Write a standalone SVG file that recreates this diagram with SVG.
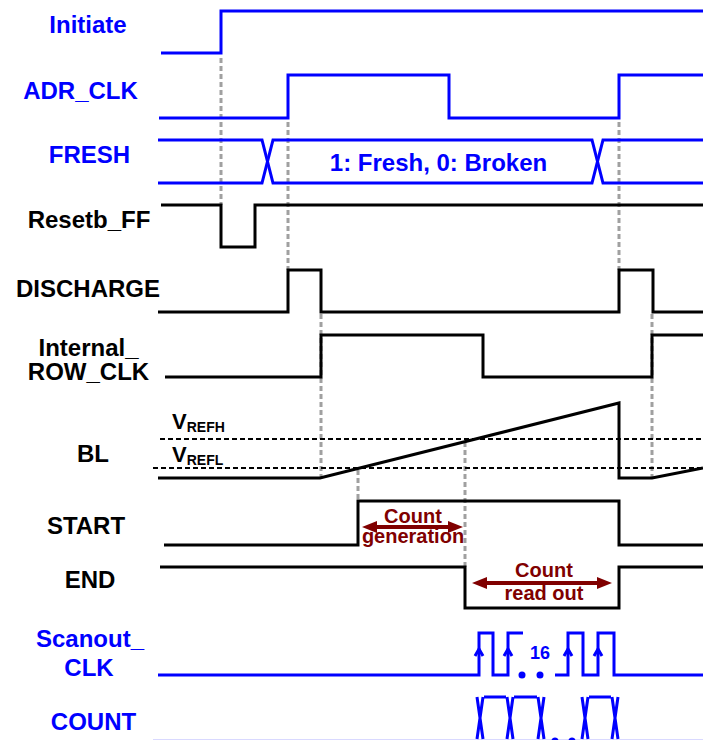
<svg xmlns="http://www.w3.org/2000/svg" width="703" height="740" viewBox="0 0 703 740">
<defs>
<style>
.lb{font-family:"Liberation Sans",Arial,sans-serif;font-weight:bold;font-size:24px;text-anchor:middle}
.bl{fill:#0000FF}
.bk{fill:#000000}
.wb{fill:none;stroke:#0000FF;stroke-width:3}
.wk{fill:none;stroke:#000000;stroke-width:3}
.gd{fill:none;stroke:#A0A0A0;stroke-width:3;stroke-dasharray:5 3}
.ref{fill:none;stroke:#000000;stroke-width:2;stroke-dasharray:5 3}
.rt{font-family:"Liberation Sans",Arial,sans-serif;font-weight:bold;font-size:20px;fill:#800000;text-anchor:middle}
.ar{fill:none;stroke:#800000;stroke-width:4;marker-start:url(#ah);marker-end:url(#ah)}
</style>
<marker id="ah" viewBox="0 0 15 12" refX="7" refY="6" markerWidth="15" markerHeight="12" markerUnits="userSpaceOnUse" orient="auto-start-reverse">
<path d="M0,0 L15,6 L0,12 z" fill="#800000"/>
</marker>
<path id="up" d="M-4,7 L0,0 L4,7" fill="none" stroke="#0000FF" stroke-width="3"/>
<path id="xc" d="M-3,0 L3,42 M3,0 L-3,42" fill="none" stroke="#0000FF" stroke-width="3"/>
</defs>
<rect width="703" height="740" fill="#FFFFFF"/>

<g id="connectors">
<line class="gd" x1="221" y1="58" x2="221" y2="205"/>
<line class="gd" x1="288" y1="122" x2="288" y2="270"/>
<line class="gd" x1="321" y1="314" x2="321" y2="478"/>
<line class="gd" x1="358" y1="470" x2="358" y2="501"/>
<line class="gd" x1="465" y1="442" x2="465" y2="567"/>
<line class="gd" x1="619" y1="122" x2="619" y2="270"/>
<line class="gd" x1="652" y1="314" x2="652" y2="478"/>
</g>

<g id="initiate">
<text class="lb bl" x="88" y="33">Initiate</text>
<path class="wb" d="M161,53 H221 V11 H703"/>
</g>

<g id="adr_clk">
<text class="lb bl" x="80.5" y="99">ADR_CLK</text>
<path class="wb" d="M159,118 H288 V75 H449 V118 H619 V75 H703"/>
</g>

<g id="fresh">
<text class="lb bl" x="89.5" y="163">FRESH</text>
<path class="wb" d="M158,140 H262 L273,183 H592 L603,140 H703"/>
<path class="wb" d="M158,183 H262 L273,140 H592 L603,183 H703"/>
<text class="lb bl" x="438.5" y="171">1: Fresh, 0: Broken</text>
</g>

<g id="resetb_ff">
<text class="lb bk" x="89" y="228">Resetb_FF</text>
<path class="wk" d="M161,205 H221 V247 H255 V205 H703"/>
</g>

<g id="discharge">
<text class="lb bk" x="88" y="297">DISCHARGE</text>
<path class="wk" d="M158,312 H288 V270 H321 V312 H619 V270 H653 V312 H703"/>
</g>

<g id="internal_row_clk">
<text class="lb bk" x="88.5" y="356">Internal_</text>
<text class="lb bk" x="88.5" y="380">ROW_CLK</text>
<path class="wk" d="M165,377 H321 V335 H483 V377 H652 V335 H703"/>
</g>

<g id="bl">
<text class="lb bk" x="93" y="462">BL</text>
<line class="ref" x1="160" y1="439" x2="703" y2="439"/>
<line class="ref" x1="153" y1="468" x2="703" y2="468"/>
<text font-family="Liberation Sans, Arial, sans-serif" font-weight="bold" font-size="22" x="172" y="429">V<tspan font-size="14" dy="3">REFH</tspan></text>
<text font-family="Liberation Sans, Arial, sans-serif" font-weight="bold" font-size="22" x="172" y="462">V<tspan font-size="14" dy="3">REFL</tspan></text>
<path class="wk" d="M158,478 H320 L619,403 V478 H652 L703,468"/>
</g>

<g id="start">
<text class="lb bk" x="86" y="534">START</text>
<path class="wk" d="M164,545 H358 V501 H619 V545 H703"/>
</g>

<g id="end">
<text class="lb bk" x="90" y="588">END</text>
<path class="wk" d="M160,567 H465 V608 H619 V567 H703"/>
</g>

<g id="annotations">
<path class="ar" d="M370,527 H455"/>
<text class="rt" x="413" y="523">Count</text>
<text class="rt" x="413" y="543">generation</text>
<path class="ar" d="M480,583 H604"/>
<text class="rt" x="544" y="577">Count</text>
<text class="rt" x="544" y="600">read out</text>
</g>

<g id="scanout_clk">
<text class="lb bl" x="90" y="647">Scanout_</text>
<text class="lb bl" x="89" y="676">CLK</text>
<path class="wb" d="M158,675 H479 V633 H493 V675 H508 V633 H523"/>
<path class="wb" d="M555,675 H568 V633 H583 V675 H598 V633 H614 V675 H703"/>
<use href="#up" x="479" y="649"/>
<use href="#up" x="508" y="649"/>
<use href="#up" x="568" y="649"/>
<use href="#up" x="598" y="649"/>
<circle cx="522" cy="675" r="3.5" fill="#0000FF"/>
<circle cx="540" cy="675" r="3.5" fill="#0000FF"/>
<text font-family="Liberation Sans, Arial, sans-serif" font-weight="bold" font-size="18" fill="#0000FF" text-anchor="middle" x="540" y="659">16</text>
</g>

<g id="count">
<text class="lb bl" x="93.5" y="730">COUNT</text>
<use href="#xc" x="480" y="697"/>
<use href="#xc" x="510" y="697"/>
<use href="#xc" x="541" y="697"/>
<use href="#xc" x="585" y="697"/>
<use href="#xc" x="615" y="697"/>
<path class="wb" d="M484,697 H506 M514,697 H537 M589,697 H611"/>
<line x1="153" y1="741.2" x2="703" y2="741.2" stroke="#0000FF" stroke-width="3" stroke-opacity="0.6"/>
<circle cx="555" cy="741" r="3.5" fill="#0000FF"/>
<circle cx="572" cy="741" r="3.5" fill="#0000FF"/>
</g>
</svg>
